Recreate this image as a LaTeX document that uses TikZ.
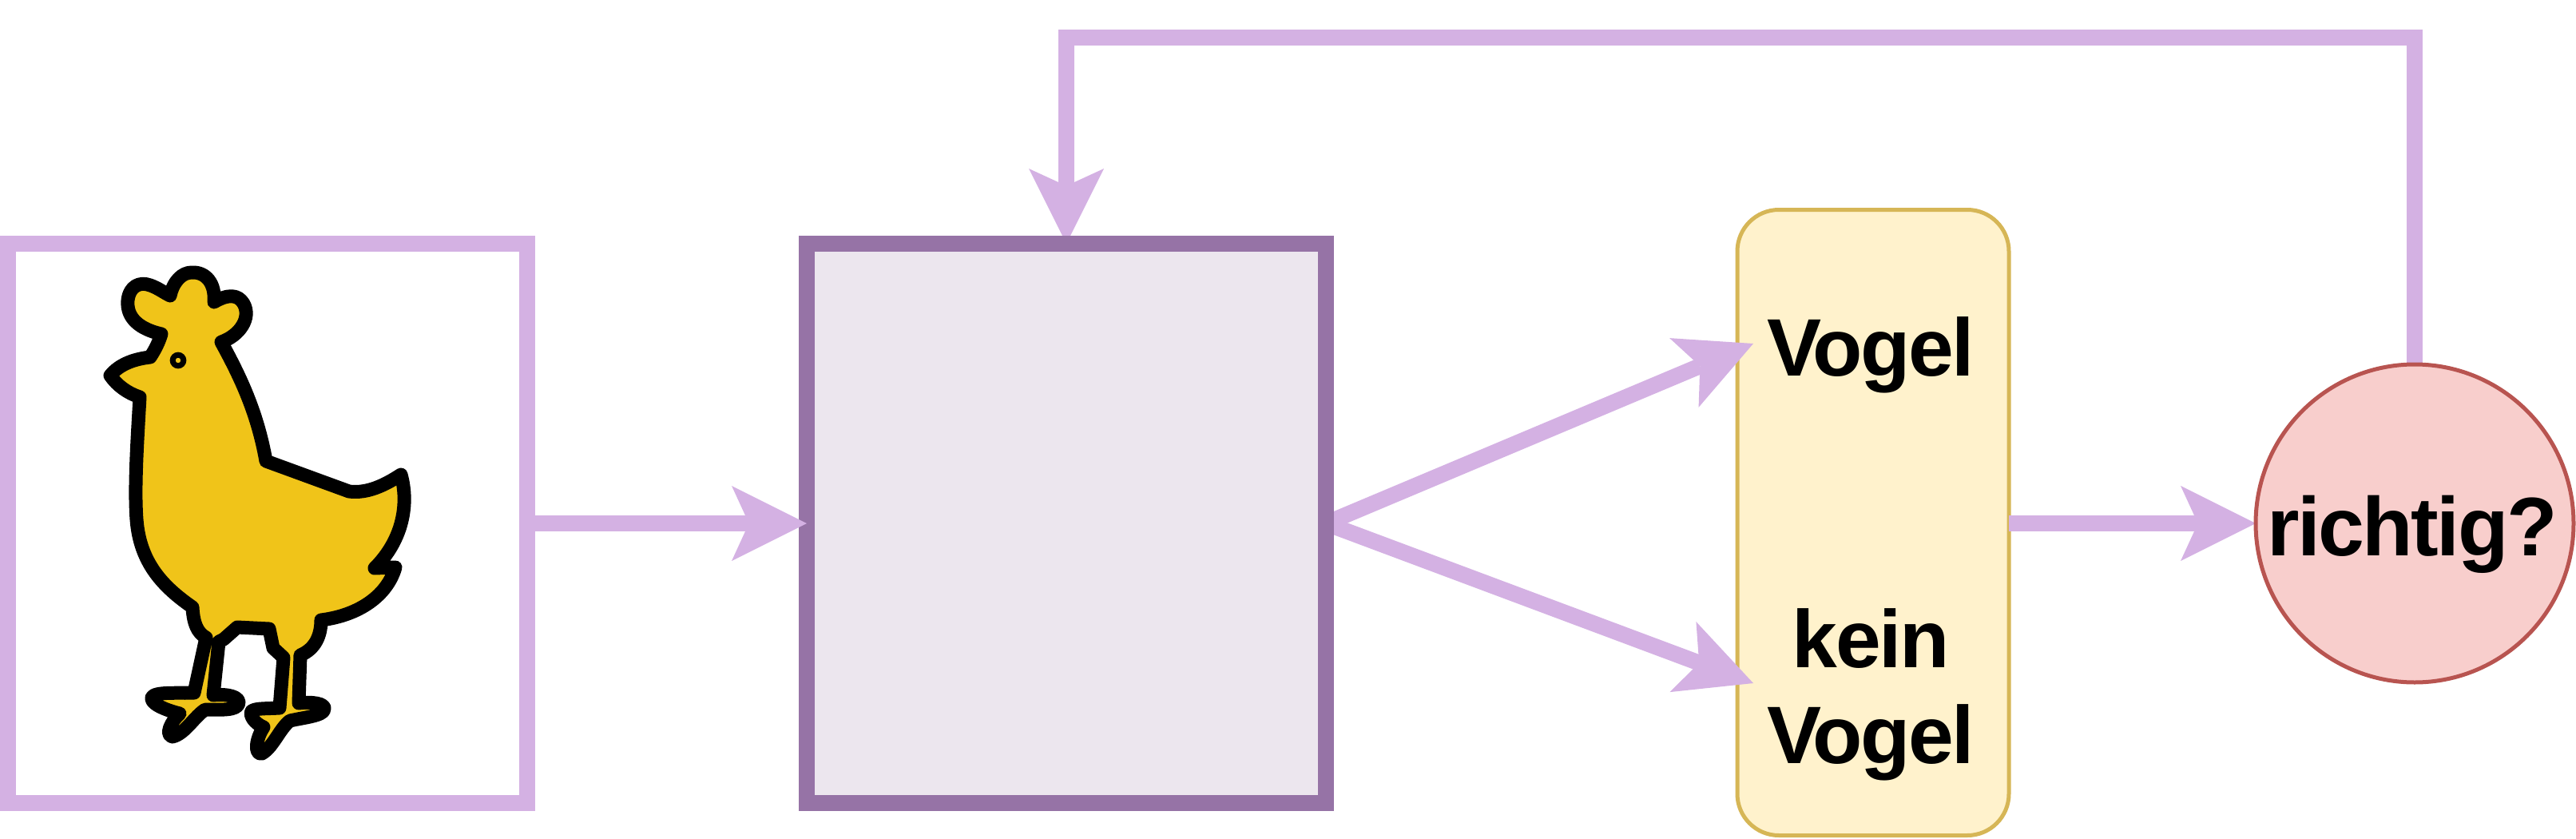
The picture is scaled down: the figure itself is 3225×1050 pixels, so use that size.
\documentclass[tikz,border=0pt]{standalone}
\usepackage{fontspec}
\setmainfont{Liberation Sans}
\newfontfamily\lblfont[LetterSpace=-2.5]{Liberation Sans}
\usetikzlibrary{arrows.meta}
\pgfdeclarelayer{bg}
\pgfdeclarelayer{fg}
\pgfdeclarelayer{over}
\pgfsetlayers{bg,main,fg,over}
\definecolor{lilac}{HTML}{D4B1E3}
\definecolor{plum}{HTML}{9673A6}
\definecolor{plumfill}{HTML}{ECE6EE}
\definecolor{noteline}{HTML}{D6B656}
\definecolor{notefill}{HTML}{FFF2CC}
\definecolor{askline}{HTML}{B85450}
\definecolor{askfill}{HTML}{F8CECC}
\definecolor{hen}{HTML}{F0C419}
\tikzset{
  box/.style={draw,rectangle,inner sep=0pt,outer sep=0pt,line width=10pt,minimum width=325pt,minimum height=350pt},
  conn/.style={draw=lilac,line width=10pt,miter limit=10,-{Stealth[length=47pt,width=47pt,inset=10.8pt,line width=0pt,fill=lilac]}},
  lbl/.style={inner sep=0pt,outer sep=0pt,font=\lblfont\fontsize{51pt}{60pt}\selectfont\bfseries,align=center},
  henline/.style={draw=black,fill=hen,line width=8.5pt,line join=round,line cap=round}
}
\begin{document}
\begin{tikzpicture}[x=0.5pt,y=-0.5pt]
\useasboundingbox (0,0) rectangle (3225,1050);
\begin{pgfonlayer}{bg}
  \node[draw=noteline,fill=notefill,rectangle,rounded corners=26pt,line width=2.5pt,inner sep=0pt,outer sep=0pt,minimum width=170pt,minimum height=391.5pt] (out) at (2345,654) {};
  \node[lbl,anchor=base] (yes) at (2342,470) {Vogel};
  \node[lbl,anchor=base] (no) at (2342,955) {kein\\Vogel};
\end{pgfonlayer}
\begin{pgfonlayer}{fg}
  \node[box,draw=lilac,fill=white] (input) at (335,655) {};
  \node[box,draw=plum,fill=plumfill] (net) at (1335,655) {};
  \node[draw=askline,fill=askfill,circle,line width=2.5pt,inner sep=0pt,outer sep=0pt,minimum size=199pt,font=\lblfont\fontsize{52pt}{60pt}\selectfont\bfseries,text height=46pt,text depth=6pt] (check) at (3023,655) {richtig?\kern3pt};
  % chicken
  \path[henline] (138,470)
    .. controls (150,455) and (170,449) .. (188,447)
    .. controls (194,438) and (199,428) .. (202,418)
    .. controls (175,412) and (158,398) .. (160,376)
    .. controls (162,358) and (175,352) .. (188,357)
    .. controls (197,360) and (205,366) .. (213,370)
    .. controls (217,352) and (228,341) .. (240,341)
    .. controls (258,340) and (270,355) .. (268,378)
    .. controls (285,368) and (298,368) .. (305,380)
    .. controls (315,398) and (300,420) .. (277,428)
    .. controls (300,470) and (322,515) .. (333,577)
    -- (437,615)
    .. controls (460,618) and (482,607) .. (502,594)
    .. controls (512,630) and (505,675) .. (469,711)
    -- (495,710)
    .. controls (485,745) and (450,770) .. (402,776)
    .. controls (402,795) and (395,812) .. (376,820)
    -- (374,880)
    .. controls (390,878) and (408,880) .. (406,888)
    .. controls (404,896) and (380,898) .. (363,902)
    .. controls (350,912) and (342,935) .. (328,943)
    .. controls (318,945) and (320,925) .. (330,910)
    .. controls (318,905) and (312,895) .. (315,890)
    .. controls (320,886) and (335,887) .. (350,886)
    -- (355,823) -- (342,811) -- (337,787) -- (297,785) -- (280,800) -- (274,803)
    -- (267,870)
    .. controls (285,868) and (300,872) .. (299,880)
    .. controls (297,890) and (275,888) .. (257,888)
    .. controls (243,897) and (232,918) .. (216,922)
    .. controls (206,920) and (214,903) .. (225,893)
    .. controls (205,888) and (188,880) .. (190,873)
    .. controls (193,865) and (225,868) .. (243,867)
    -- (258,798)
    .. controls (247,792) and (242,780) .. (241,760)
    .. controls (205,735) and (175,705) .. (171,650)
    .. controls (168,610) and (172,550) .. (175,497)
    .. controls (160,492) and (147,483) .. (138,470)
    -- cycle;
  \path[draw=black,fill=hen,line width=3.5pt] (223,451) circle[radius=3.4pt];
\end{pgfonlayer}
\coordinate (upA) at (2195,430);
\coordinate (upB) at (2195,855);
\coordinate (topR) at (3023,47);
\coordinate (topL) at (1335,47);
\begin{pgfonlayer}{over}
  \path[conn] (input.east) -- (net.west);
\end{pgfonlayer}
\path[conn] (net.east) -- (upA);
\path[conn] (net.east) -- (upB);
\path[conn] (out.east |- check.west) -- (check.west);
\path[conn] (check.north) -- (topR) -- (topL) -- (net.north);
\end{tikzpicture}
\end{document}
